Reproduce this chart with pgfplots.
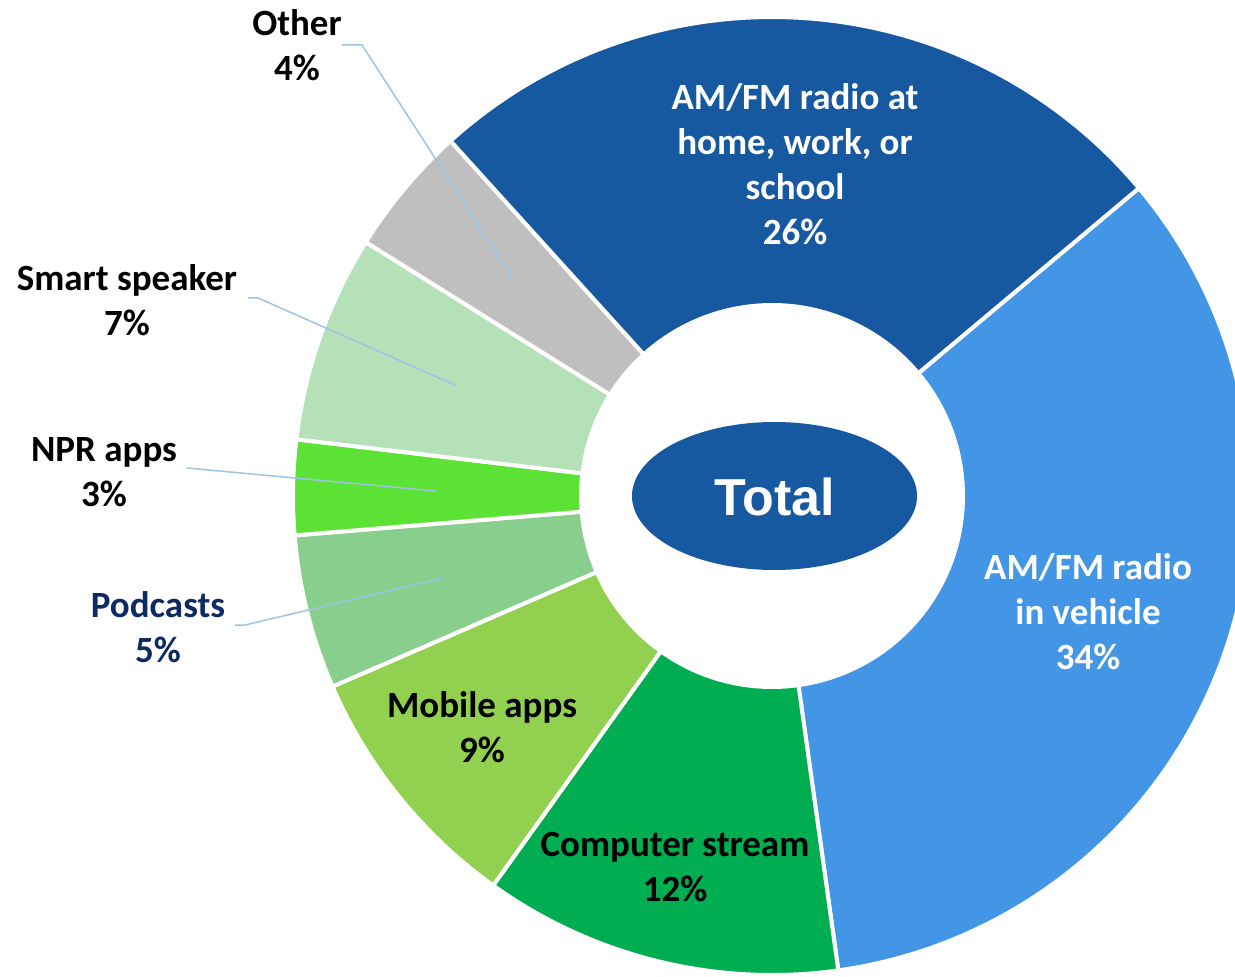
\documentclass[border=0pt]{standalone}
\usepackage{pgfplots}
\pgfplotsset{compat=1.18}
\usepackage{fontspec}
\setmainfont{Carlito}
\newfontfamily\arialfont{Liberation Sans}
\definecolor{cHome}{HTML}{1659A0}
\definecolor{cVeh}{HTML}{4395E5}
\definecolor{cComp}{HTML}{00AD50}
\definecolor{cMob}{HTML}{92D050}
\definecolor{cPod}{HTML}{88CF8D}
\definecolor{cNPR}{HTML}{5BE234}
\definecolor{cSmart}{HTML}{B4E1B8}
\definecolor{cOther}{HTML}{BFBFBF}
\definecolor{cNavy}{HTML}{0D2A63}
\definecolor{cLeader}{HTML}{9DC3E6}
\def\Rout{479}
\def\Rin{193}
\def\slicestart{40}
\newcommand\donutslice[2]{%
  \pgfmathsetmacro\sliceend{\slicestart-#1*3.6}%
  \edef\doslice{\noexpand\addplot[fill=#2,draw=white,line width=2pt,domain=\slicestart:\sliceend,samples=120,variable=\noexpand\t]
    ({\Rout*cos(\noexpand\t)},{\Rout*sin(\noexpand\t)}) -- (axis cs:0,0) -- cycle;}%
  \doslice
  \global\let\slicestart\sliceend}
\begin{document}
\begin{tikzpicture}
\begin{axis}[
  scale only axis, width=617.5pt, height=488pt,
  xmin=-772, xmax=463, ymin=-480, ymax=496,
  hide axis, clip=true,
]
% shares (percent), clockwise from 40 degrees
\donutslice{33.9}{cVeh}
\donutslice{12.1}{cComp}
\donutslice{8.6}{cMob}
\donutslice{5.2}{cPod}
\donutslice{3.2}{cNPR}
\donutslice{7.0}{cSmart}
\donutslice{4.4}{cOther}
\donutslice{25.6}{cHome}
% hole
\addplot[fill=white,draw=none,domain=0:360,samples=180,variable=\t] ({\Rin*cos(t)},{\Rin*sin(t)}) -- cycle;
% center ellipse
\addplot[fill=cHome,draw=none,domain=0:360,samples=180,variable=\t] ({2.5+142.5*cos(t)},{74*sin(t)}) -- cycle;
% leader lines
\addplot[cLeader,line width=0.75pt] coordinates {(-430,451) (-410,451) (-257,214)};
\addplot[cLeader,line width=0.75pt] coordinates {(-524,198) (-514,198) (-317,111)};
\addplot[cLeader,line width=0.75pt] coordinates {(-585,28) (-337,5)};
\addplot[cLeader,line width=0.75pt] coordinates {(-537,-129) (-527,-129) (-329,-82)};
% labels
\tikzset{lbl/.style={align=center,font=\fontsize{18.5}{22.5}\selectfont\bfseries,inner sep=0pt}}
\node[lbl] at (axis cs:-475,451) {Other\\4\%};
\node[lbl] at (axis cs:-645,196) {Smart speaker\\7\%};
\node[lbl] at (axis cs:-668,24) {NPR apps\\3\%};
\node[lbl,text=cNavy] at (axis cs:-614,-131) {Podcasts\\5\%};
\node[lbl] at (axis cs:-290,-231) {Mobile apps\\9\%};
\node[lbl] at (axis cs:-97,-371) {Computer stream\\12\%};
\node[lbl,text=white] at (axis cs:316,-116) {AM/FM radio\\in vehicle\\34\%};
\node[lbl,text=white] at (axis cs:23,331.5) {AM/FM radio at\\home, work, or\\school\\26\%};
\node[text=white,font=\arialfont\fontsize{26}{30}\selectfont\bfseries,inner sep=0pt] at (axis cs:3,-1) {Total};
\end{axis}
\pgfresetboundingbox
\path[use as bounding box] (current axis.south west) rectangle (current axis.north east);
\end{tikzpicture}
\end{document}
